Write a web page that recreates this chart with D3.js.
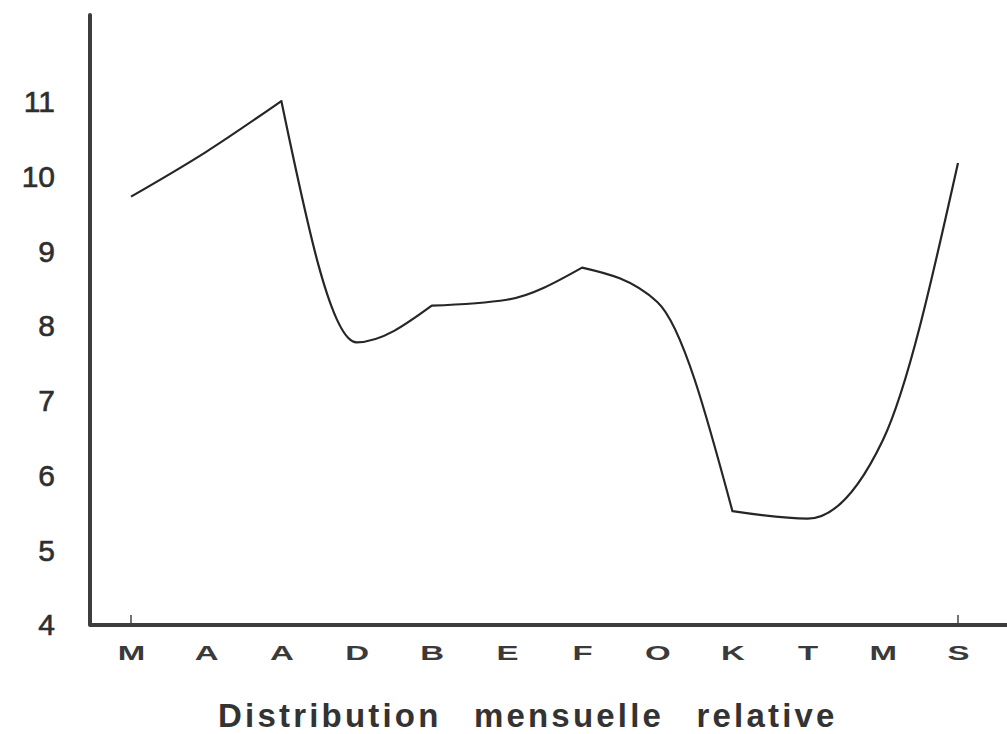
<!DOCTYPE html>
<html>
<head>
<meta charset="utf-8">
<script src="https://cdn.jsdelivr.net/npm/d3@7"></script>
<style>
  html, body { margin: 0; padding: 0; background: #ffffff; }
  svg { display: block; }
</style>
</head>
<body>
<svg id="chart" width="1007" height="734"></svg>
<script>
// ---- data ----
const months = ["M", "A", "A", "D", "B", "E", "F", "O", "K", "T", "M", "S"];
const values = [9.72, 10.32, 11.0, 7.77, 8.26, 8.34, 8.77, 8.31, 5.51, 5.41, 6.46, 10.17];
const yTicks = [4, 5, 6, 7, 8, 9, 10, 11];
const title = "Distribution mensuelle relative";
// indices where the hand-drawn curve has a corner (curve restarts there)
const corners = [0, 2, 4, 6, 8, 11];

// ---- layout ----
const svg = d3.select("#chart");
const axisX0 = 90, axisY0 = 625;
const font = "'Liberation Sans', Arial, Helvetica, sans-serif";

const x = d3.scalePoint()
  .domain(d3.range(months.length))
  .range([131, 958]);

const y = d3.scaleLinear()
  .domain([4, 11])
  .range([624, 101]);

// y axis tick labels (no tick marks)
const yAxis = d3.axisLeft(y).tickValues(yTicks).tickSize(0).tickPadding(0).tickFormat(d3.format("d"));
const gy = svg.append("g").attr("transform", "translate(55,0)").call(yAxis);
gy.select(".domain").remove();
gy.selectAll("text")
  .attr("font-family", font)
  .attr("font-size", 30)
  .attr("fill", "#2e2e2e")
  .attr("stroke", "#2e2e2e")
  .attr("stroke-width", 0.6)
  .attr("dy", "0.36em");

// x axis labels
const xAxis = d3.axisBottom(x).tickSize(0).tickPadding(0).tickFormat(i => months[i]);
const gx = svg.append("g").attr("transform", `translate(0,${axisY0})`).call(xAxis);
gx.select(".domain").remove();
gx.selectAll("text")
  .attr("font-family", font)
  .attr("font-weight", "bold")
  .attr("font-size", 20)
  .attr("fill", "#3a3a3a")
  .attr("dy", 0)
  .attr("y", 35)
  .attr("transform", "scale(1.65,1)");

// small ticks at first and last month
svg.selectAll(".endtick")
  .data([0, months.length - 1])
  .enter().append("line")
  .attr("x1", d => x(d)).attr("x2", d => x(d))
  .attr("y1", axisY0 - 10).attr("y2", axisY0)
  .attr("stroke", "#444").attr("stroke-width", 1.5);

// axis lines
svg.append("path")
  .attr("d", `M${axisX0},15 L${axisX0},${axisY0} L1007,${axisY0}`)
  .attr("fill", "none")
  .attr("stroke", "#3d3d3d")
  .attr("stroke-width", 4)
  .attr("stroke-linejoin", "round")
  .attr("stroke-linecap", "round");

// data line, drawn as smooth pieces joined at the corners
const line = d3.line()
  .x(d => x(d.i))
  .y(d => y(d.v))
  .curve(d3.curveMonotoneX);

const pts = values.map((v, i) => ({ i, v }));
const pieces = d3.pairs(corners).map(([a, b]) => pts.slice(a, b + 1));
const pathD = pieces.map((p, k) => {
  const d = line(p);
  return k === 0 ? d : d.replace(/^M[^CL]*/, "L" + x(p[0].i) + "," + y(p[0].v));
}).join("");

svg.append("path")
  .attr("d", pathD)
  .attr("fill", "none")
  .attr("stroke", "#262626")
  .attr("stroke-width", 2.2)
  .attr("stroke-linejoin", "round");

// title
svg.append("text")
  .attr("x", 218)
  .attr("y", 727)
  .attr("text-anchor", "start")
  .attr("font-family", font)
  .attr("font-weight", "bold")
  .attr("font-size", 33)
  .attr("letter-spacing", 3.2)
  .attr("word-spacing", 20)
  .attr("fill", "#333")
  .text(title);
</script>
</body>
</html>
